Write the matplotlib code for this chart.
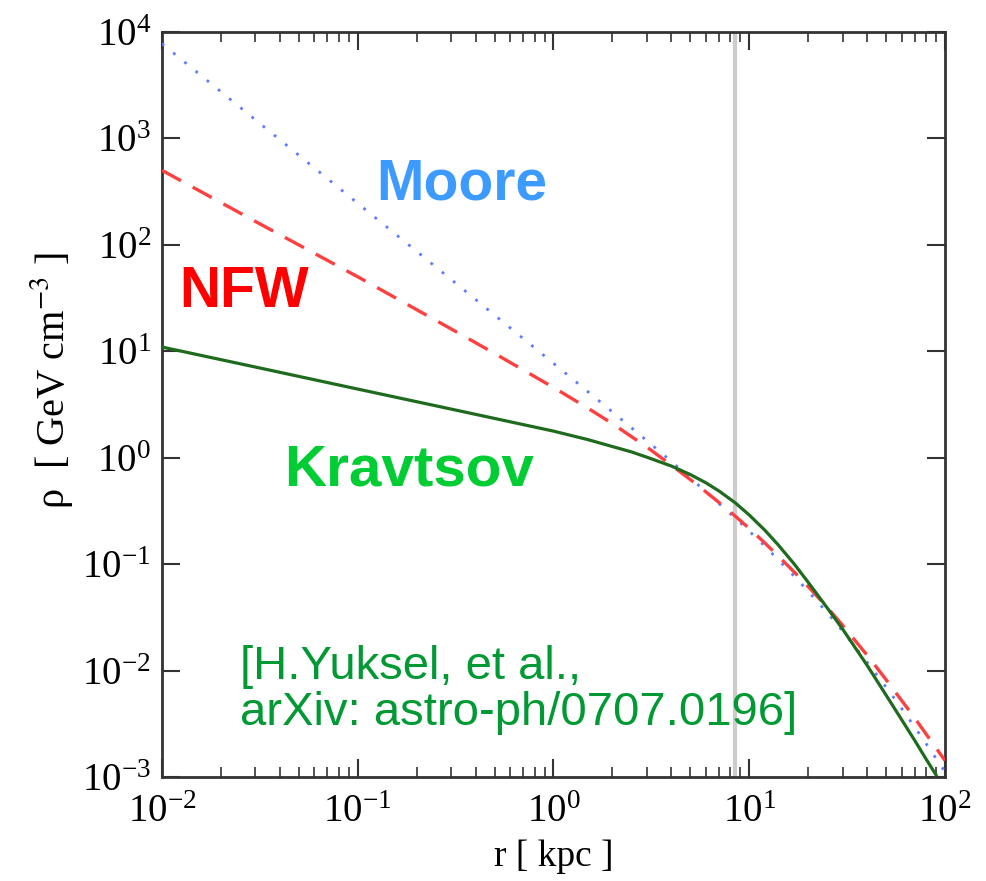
import matplotlib
matplotlib.use("Agg")
import matplotlib.pyplot as plt
import numpy as np
from matplotlib.ticker import LogLocator, LogFormatterMathtext, NullFormatter

plt.rcParams['mathtext.fontset'] = 'stix'
plt.rcParams['font.family'] = ['Liberation Serif', 'DejaVu Serif']

# radius [kpc] and log10 density [GeV cm^-3]
r_moore = [0.01, 0.03, 0.1, 0.3, 0.5, 1, 1.5, 2, 3, 4, 5, 6, 7, 8.5, 10, 12, 14, 17, 20,
           25, 30, 40, 50, 60, 70, 80, 100]
lg_moore = [3.89, 3.175, 2.39, 1.675, 1.34, 0.887, 0.62, 0.43, 0.16, -0.035, -0.19, -0.32,
            -0.43, -0.57, -0.69, -0.83, -0.955, -1.115, -1.255, -1.455, -1.63, -1.92,
            -2.155, -2.355, -2.53, -2.685, -2.95]

r_nfw = [0.01, 0.03, 0.1, 0.3, 0.5, 1, 1.5, 2, 3, 4, 5, 6, 7, 8.5, 10, 12, 14, 17, 20,
         25, 30, 40, 50, 60, 70, 80, 100]
lg_nfw = [2.70, 2.22, 1.70, 1.21, 0.98, 0.66, 0.465, 0.32, 0.10, -0.07, -0.205, -0.32,
          -0.42, -0.55, -0.665, -0.80, -0.92, -1.075, -1.21, -1.405, -1.575, -1.855,
          -2.085, -2.28, -2.445, -2.595, -2.845]

r_krav = [0.01, 0.03, 0.1, 0.3, 1, 1.5, 2, 2.5, 3, 4, 5, 6, 7, 8.5, 10, 12, 14, 17, 20,
          25, 30, 40, 50, 60, 70, 80, 90]
lg_krav = [1.04, 0.852, 0.645, 0.457, 0.25, 0.17, 0.105, 0.055, 0.005, -0.078, -0.158,
           -0.235, -0.312, -0.425, -0.538, -0.68, -0.815, -1.0, -1.17, -1.41, -1.61,
           -1.95, -2.23, -2.46, -2.655, -2.83, -2.98]

r_sun = 8.5

fig = plt.figure(figsize=(9.86, 8.81), dpi=100)
ax = fig.add_axes([0.1643, 0.118, 0.7941, 0.8457])

ax.axvline(r_sun, color='#cccccc', lw=3, zorder=1)
ax.plot(r_moore, 10 ** np.array(lg_moore), color='#5c7cff', lw=2, ls=(0, (1, 4.2)), zorder=3)
ax.plot(r_nfw, 10 ** np.array(lg_nfw), color='#ff4040', lw=2.4, ls=(0, (6.5, 4)), zorder=3)
ax.plot(r_krav, 10 ** np.array(lg_krav), color='#1e6b1e', lw=2.3, zorder=4)

ax.set_xscale('log')
ax.set_yscale('log')
ax.set_xlim(1e-2, 1e2)
ax.set_ylim(1e-3, 1e4)

ax.xaxis.set_major_locator(LogLocator(base=10, numticks=10))
ax.xaxis.set_minor_locator(LogLocator(base=10, subs=np.arange(2, 10), numticks=20))
ax.xaxis.set_minor_formatter(NullFormatter())
ax.yaxis.set_major_locator(LogLocator(base=10, numticks=10))
ax.yaxis.set_minor_locator(LogLocator(base=10, subs=[], numticks=10))
ax.xaxis.set_major_formatter(LogFormatterMathtext())
ax.yaxis.set_major_formatter(LogFormatterMathtext())

ax.tick_params(which='both', direction='in', top=True, right=True, colors='#333333',
               labelcolor='black', labelsize=28)
ax.tick_params(which='major', length=13, width=1.5)
ax.tick_params(which='minor', length=7, width=1.2)
ax.tick_params(axis='x', pad=12)
ax.tick_params(axis='y', pad=8)
for s in ax.spines.values():
    s.set_linewidth(2)
    s.set_color('#333333')

ax.set_xlabel('r [ kpc ]', fontsize=27)
ax.xaxis.set_label_coords(0.5, -0.084)
ax.set_ylabel('ρ  [ GeV cm$^{-3}$ ]', fontsize=29)
ax.yaxis.set_label_coords(-0.111, 0.533)

sans = ['Liberation Sans', 'DejaVu Sans']
fig.text(462 / 986, 1 - 185 / 881, 'Moore', color='#3d9bff', fontsize=41, fontweight='bold',
         family=sans, ha='center', va='center')
fig.text(244 / 986, 1 - 292 / 881, 'NFW', color='#ff0000', fontsize=41, fontweight='bold',
         family=sans, ha='center', va='center')
fig.text(409 / 986, 1 - 470 / 881, 'Kravtsov', color='#00cc33', fontsize=42, fontweight='bold',
         family=sans, ha='center', va='center')
fig.text(240 / 986, 1 - 690 / 881, '[H.Yuksel, et al.,\narXiv: astro-ph/0707.0196]',
         color='#009933', fontsize=34, family=sans, ha='left', va='center', linespacing=1.05)

fig.savefig('out.png', dpi=100)
